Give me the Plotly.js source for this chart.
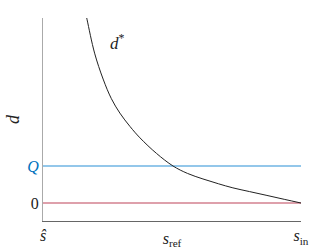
<!DOCTYPE html>
<html>
<head>
<meta charset="utf-8">
<script src="https://cdn.plot.ly/plotly-3.0.1.min.js"></script>
<style>html,body{margin:0;padding:0;background:#fff;}#chart{width:332px;height:249px;}</style>
</head>
<body>
<div id="chart"></div>
<script>
// positions along s (0 = ŝ, 1 = s_in)
const curveS = [0.165, 0.171, 0.200, 0.233, 0.265, 0.298, 0.337, 0.376, 0.440, 0.504, 0.560, 0.620, 0.680, 0.736, 0.800, 0.868, 0.935, 1.000];
const curveD = [5.15, 4.95, 4.05, 3.35, 2.82, 2.43, 2.07, 1.76, 1.34, 1.00, 0.80, 0.65, 0.52, 0.41, 0.31, 0.205, 0.10, 0.00];
const lineS = [0, 1];
const qLevel = [1, 1];
const zeroLevel = [0, 0];
const xTickVals = [0, 1];
const xTickText = ['<i>ŝ</i>', '<i>s</i><sub>in</sub>'];
const yTickVals = [0, 1];
const yTickText = ['0', '<span style="color:#0072BD"><i>Q</i></span>'];

const serif = 'Liberation Serif';

const traces = [
  {x: lineS, y: qLevel, mode: 'lines', line: {color: '#6fb4e3', width: 1.6}, hoverinfo: 'skip'},
  {x: lineS, y: zeroLevel, mode: 'lines', line: {color: '#d3808f', width: 1.6}, hoverinfo: 'skip'},
  {x: curveS, y: curveD, mode: 'lines', line: {color: '#222', width: 1, shape: 'spline', smoothing: 1}, hoverinfo: 'skip'}
];

const layout = {
  width: 332, height: 249,
  margin: {l: 43, r: 31, t: 18, b: 28},
  paper_bgcolor: '#fff', plot_bgcolor: '#fff',
  showlegend: false,
  font: {family: serif, size: 14, color: '#222'},
  xaxis: {
    range: [0, 1], showgrid: false, zeroline: false,
    showline: true, linecolor: '#666', linewidth: 1,
    ticks: '', tickvals: xTickVals, ticktext: xTickText,
    tickfont: {family: serif, size: 16, color: '#222'},
    title: {text: '<i>s</i><sub>ref</sub>', font: {family: serif, size: 16, color: '#222'}, standoff: 0}
  },
  yaxis: {
    range: [-0.486, 5.0], showgrid: false, zeroline: false,
    showline: true, linecolor: '#aaa', linewidth: 1,
    ticks: '', tickvals: yTickVals, ticktext: yTickText,
    tickfont: {family: serif, size: 16, color: '#222'},
    title: {text: '<i>d</i>', font: {family: serif, size: 18, color: '#222'}, standoff: 2}
  },
  annotations: [
    {x: 0.29, y: 4.35, xref: 'x', yref: 'y', text: '<i>d</i><sup>*</sup>', showarrow: false,
     font: {family: serif, size: 17, color: '#222'}}
  ]
};

Plotly.newPlot('chart', traces, layout, {staticPlot: true, displayModeBar: false});
</script>
</body>
</html>
